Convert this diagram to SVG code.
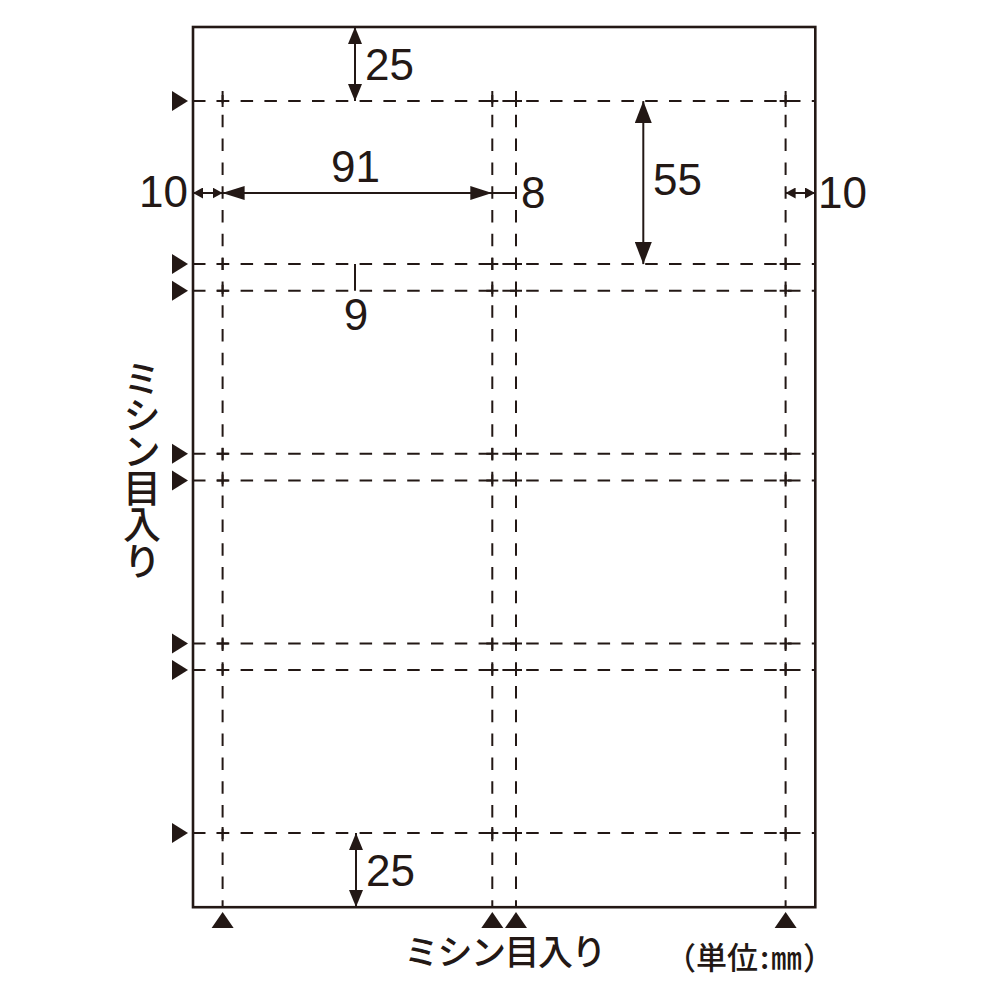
<svg xmlns="http://www.w3.org/2000/svg" xmlns:xlink="http://www.w3.org/1999/xlink" width="1000" height="1000" viewBox="0 0 1000 1000">
<style>
.frame{fill:none;stroke:#231815;stroke-width:2.6}
.dash{fill:none;stroke:#231815;stroke-width:2;stroke-dasharray:12.5 11.3}
.tick{fill:none;stroke:#231815;stroke-width:2}
.dim{fill:none;stroke:#231815;stroke-width:2}
.tri{fill:#231815}
.num{font-family:"Liberation Sans",Arial,sans-serif;font-size:44px;fill:#231815}
.jp{font-family:"Noto Sans CJK JP","Noto Sans",sans-serif;font-weight:500;fill:#231815}
</style>
<defs>
<marker id="ahL" markerUnits="userSpaceOnUse" viewBox="0 0 22 14" refX="22" refY="7" markerWidth="22" markerHeight="14" orient="auto-start-reverse"><path d="M0,0 L22,7 L0,14 z" fill="#231815"/></marker>
<marker id="ahW" markerUnits="userSpaceOnUse" viewBox="0 0 22 17" refX="22" refY="8.5" markerWidth="22" markerHeight="17" orient="auto-start-reverse"><path d="M0,0 L22,8.5 L0,17 z" fill="#231815"/></marker>
<marker id="ahM" markerUnits="userSpaceOnUse" viewBox="0 0 17 14" refX="17" refY="7" markerWidth="17" markerHeight="14" orient="auto-start-reverse"><path d="M0,0 L17,7 L0,14 z" fill="#231815"/></marker>
<marker id="ahS" markerUnits="userSpaceOnUse" viewBox="0 0 10 11" refX="10" refY="5.5" markerWidth="10" markerHeight="11" orient="auto-start-reverse"><path d="M0,0 L10,5.5 L0,11 z" fill="#231815"/></marker>
<path id="cr" d="M-6 0h12M0 -6v12" class="tick"/>
<path id="tr" d="M0 -10 L16 0 L0 10 z" class="tri"/>
<path id="tu" d="M-11 16 L0 0 L11 16 z" class="tri"/>
</defs>

<g id="sheet">
<rect x="193" y="27" width="622.3" height="880.2" class="frame"/>
</g>

<g id="perforations">
<path class="dash" d="M193 101.1H815M193 264.1H815M193 290.8H815M193 453.7H815M193 480.4H815M193 643.4H815M193 670.1H815M193 833.1H815"/>
<path class="dash" d="M222.6 91V907M492.3 91V907M516 91V907M785.6 91V907"/>
<g id="crosses">
<use xlink:href="#cr" x="222.6" y="101.1"/><use xlink:href="#cr" x="492.3" y="101.1"/><use xlink:href="#cr" x="516" y="101.1"/><use xlink:href="#cr" x="785.6" y="101.1"/>
<use xlink:href="#cr" x="222.6" y="264.1"/><use xlink:href="#cr" x="492.3" y="264.1"/><use xlink:href="#cr" x="516" y="264.1"/><use xlink:href="#cr" x="785.6" y="264.1"/>
<use xlink:href="#cr" x="222.6" y="290.8"/><use xlink:href="#cr" x="492.3" y="290.8"/><use xlink:href="#cr" x="516" y="290.8"/><use xlink:href="#cr" x="785.6" y="290.8"/>
<use xlink:href="#cr" x="222.6" y="453.7"/><use xlink:href="#cr" x="492.3" y="453.7"/><use xlink:href="#cr" x="516" y="453.7"/><use xlink:href="#cr" x="785.6" y="453.7"/>
<use xlink:href="#cr" x="222.6" y="480.4"/><use xlink:href="#cr" x="492.3" y="480.4"/><use xlink:href="#cr" x="516" y="480.4"/><use xlink:href="#cr" x="785.6" y="480.4"/>
<use xlink:href="#cr" x="222.6" y="643.4"/><use xlink:href="#cr" x="492.3" y="643.4"/><use xlink:href="#cr" x="516" y="643.4"/><use xlink:href="#cr" x="785.6" y="643.4"/>
<use xlink:href="#cr" x="222.6" y="670.1"/><use xlink:href="#cr" x="492.3" y="670.1"/><use xlink:href="#cr" x="516" y="670.1"/><use xlink:href="#cr" x="785.6" y="670.1"/>
<use xlink:href="#cr" x="222.6" y="833.1"/><use xlink:href="#cr" x="492.3" y="833.1"/><use xlink:href="#cr" x="516" y="833.1"/><use xlink:href="#cr" x="785.6" y="833.1"/>
</g>
</g>

<g id="markers-left">
<use xlink:href="#tr" x="172" y="101.1"/>
<use xlink:href="#tr" x="172" y="264.1"/>
<use xlink:href="#tr" x="172" y="290.8"/>
<use xlink:href="#tr" x="172" y="453.7"/>
<use xlink:href="#tr" x="172" y="480.4"/>
<use xlink:href="#tr" x="172" y="643.4"/>
<use xlink:href="#tr" x="172" y="670.1"/>
<use xlink:href="#tr" x="172" y="833.1"/>
</g>

<g id="markers-bottom">
<use xlink:href="#tu" x="222.6" y="912"/>
<use xlink:href="#tu" x="492.3" y="912"/>
<use xlink:href="#tu" x="516" y="912"/>
<use xlink:href="#tu" x="785.6" y="912"/>
</g>

<g id="dimensions">
<line class="dim" x1="355" y1="27" x2="355" y2="101.1" marker-start="url(#ahM)" marker-end="url(#ahM)"/>
<line class="dim" x1="356" y1="833.1" x2="356" y2="907" marker-start="url(#ahM)" marker-end="url(#ahM)"/>
<line class="dim" x1="222.6" y1="193" x2="492.3" y2="193" marker-start="url(#ahL)" marker-end="url(#ahL)"/>
<line class="dim" x1="492.3" y1="193" x2="516" y2="193"/>
<line class="dim" x1="516" y1="187" x2="516" y2="199"/>
<line class="dim" x1="643.3" y1="101.1" x2="643.3" y2="264.1" marker-start="url(#ahW)" marker-end="url(#ahW)"/>
<line class="dim" x1="193" y1="193" x2="222.6" y2="193" marker-start="url(#ahS)" marker-end="url(#ahS)"/>
<line class="dim" x1="785.6" y1="193" x2="815" y2="193" marker-start="url(#ahS)" marker-end="url(#ahS)"/>
<line class="dim" x1="355" y1="264.1" x2="355" y2="290.8"/>
</g>

<g id="labels">
<text class="num" x="365" y="80">25</text>
<text class="num" x="355.5" y="182" text-anchor="middle">91</text>
<text class="num" x="521" y="208">8</text>
<text class="num" x="653" y="195">55</text>
<text class="num" x="188" y="207" text-anchor="end">10</text>
<text class="num" x="818" y="208">10</text>
<text class="num" x="356" y="330" text-anchor="middle">9</text>
<text class="num" x="366" y="886">25</text>
<text class="jp" font-size="38" x="142" y="359" writing-mode="vertical-rl" letter-spacing="-1.5">ミシン目入り</text>
<text class="jp" font-size="35" x="404" y="964.5" letter-spacing="-1.5">ミシン目入り</text>
<text class="jp" font-size="31" y="969"><tspan x="665">（</tspan><tspan x="696">単位</tspan><tspan x="760">:</tspan><tspan x="771">㎜</tspan><tspan x="803">）</tspan></text>
</g>
</svg>
